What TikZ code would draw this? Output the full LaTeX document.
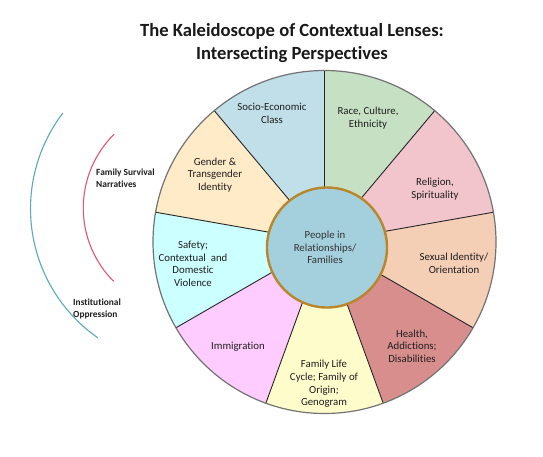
\documentclass[tikz,border=0pt]{standalone}
\usepackage{fontspec}
\setmainfont{Carlito}[Ligatures=NoCommon]
\definecolor{sociocol}{HTML}{C0DFE8}
\definecolor{racecol}{HTML}{C6E0C4}
\definecolor{religcol}{HTML}{F2C4CB}
\definecolor{sexualcol}{HTML}{F5CEB6}
\definecolor{healthcol}{HTML}{D98E8E}
\definecolor{famcol}{HTML}{FFFCCC}
\definecolor{immigcol}{HTML}{FFCCFF}
\definecolor{safetycol}{HTML}{CCFFFF}
\definecolor{gendercol}{HTML}{FFEBC8}
\definecolor{corecol}{HTML}{A4D0DD}
\definecolor{coreedge}{HTML}{B8862B}
\definecolor{bluearc}{HTML}{5BA8BD}
\definecolor{redarc}{HTML}{E05870}
\definecolor{txt}{HTML}{1E1E1E}
\tikzset{
  lbl/.style={align=center, text=txt, font=\fontsize{10.8}{12.6}\selectfont, inner sep=0pt},
  sidelbl/.style={align=left, anchor=west, text=txt, font=\bfseries\fontsize{9.4}{12}\selectfont, inner sep=0pt},
  titlelbl/.style={align=center, text=black!90, font=\bfseries\fontsize{18.6}{23.5}\selectfont, inner sep=0pt},
  divider/.style={draw=black!85, line width=0.9pt},
  rim/.style={draw=black!55, line width=1.2pt},
}
\begin{document}
\begin{tikzpicture}[x=1pt,y=1pt]
\useasboundingbox[fill=white] (0,0) rectangle (543,-456);
\coordinate (O) at (324.5,-242);
\def\R{171.5pt}
% sectors
\foreach \a/\b/\c in {90/130/sociocol, 50/90/racecol, 10/50/religcol, -30/10/sexualcol, -70/-30/healthcol, -110/-70/famcol, -150/-110/immigcol, 170/210/safetycol, 130/170/gendercol}{
  \fill[fill=\c] (O) -- ++(\a:\R) arc[start angle=\a, end angle=\b, radius=\R] -- cycle;
}
\foreach \a in {10,50,90,130,170,210,250,290,330}{
  \draw[divider] (O) -- ++(\a:\R);
}
\draw[rim] (O) circle[radius=\R];
% core
\node[circle, fill=corecol, draw=coreedge, line width=2.4pt, minimum size=120pt, inner sep=0pt] (core) at (327,-247.5) {};
\node[lbl, text=black!80] (coretxt) at (325,-247.5) {People in\\Relationships/\\Families};
% sector labels
\node[lbl] (socioT) at (272,-113.5) {Socio-Economic\\Class};
\node[lbl] (raceT) at (368,-118) {Race, Culture,\\Ethnicity};
\node[lbl] (religT) at (435,-189) {Religion,\\Spirituality};
\node[lbl] (sexT) at (454,-263) {Sexual Identity/\\Orientation};
\node[lbl] (healthT) at (412,-346) {Health,\\Addictions;\\Disabilities};
\node[lbl] (famT) at (324,-384) {Family Life\\Cycle; Family of\\Origin;\\Genogram};
\node[lbl] (immT) at (238,-347) {Immigration};
\node[lbl] (safeT) at (193,-264) {Safety;\\Contextual~ and\\Domestic\\Violence};
\node[lbl] (genT) at (215,-175) {Gender \&\\Transgender\\Identity};
% side arcs
\draw[bluearc, line width=1.1pt] (188,-208.7) ++(142.6:157.5pt) arc[start angle=142.6, end angle=235.1, radius=157.5pt];
\draw[redarc, line width=1.1pt] (187.1,-208) ++(134.7:103.8pt) arc[start angle=134.7, end angle=225, radius=103.8pt];
\node[sidelbl] (fsn) at (96,-178) {Family Survival\\Narratives};
\node[sidelbl] (inst) at (73,-309) {Institutional\\Oppression};
% title
\node[titlelbl] (title) at (292,-43) {The Kaleidoscope of Contextual Lenses:\\Intersecting Perspectives};
\end{tikzpicture}
\end{document}
